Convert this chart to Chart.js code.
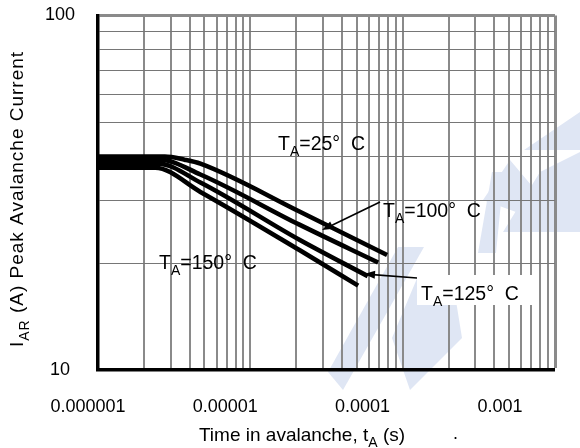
<!DOCTYPE html>
<html>
<head>
<meta charset="utf-8">
<script src="https://cdn.jsdelivr.net/npm/chart.js@4.4.1/dist/chart.umd.min.js"></script>
<style>
  html, body { margin: 0; padding: 0; background: #fff; }
  #wrap { width: 580px; height: 448px; }
</style>
</head>
<body>
<div id="wrap"><canvas id="c" width="580" height="448"></canvas></div>
<script>
// Peak avalanche current (A) versus time in avalanche (s), one curve per ambient temperature
const t25  = [1e-6, 2.75e-6, 3.7e-6, 4.7e-6, 2.1e-5, 7.9e-5];
const i25  = [40.0, 40.0, 39.2, 38.2, 28.0, 21.1];
const t100 = [1e-6, 2.55e-6, 4.7e-6, 2.1e-5, 6.9e-5];
const i100 = [39.2, 39.2, 35.6, 25.7, 20.1];
const t125 = [1e-6, 2.48e-6, 4.7e-6, 2.1e-5, 5.9e-5];
const i125 = [38.2, 38.2, 33.8, 23.3, 18.4];
const t150 = [1e-6, 2.37e-6, 4.7e-6, 2.1e-5, 5.1e-5];
const i150 = [37.2, 37.2, 31.8, 21.8, 17.3];
const temps = ['25', '100', '125', '150'];

// Axis ticks
const xTickExps   = [-6, -5, -4, -3];
const xTickLabels = ['0.000001', '0.00001', '0.0001', '0.001'];
const yTickValues = [10, 100];
const yTickLabels = ['10', '100'];

const FONT = "'Liberation Sans', Arial, Helvetica, sans-serif";
Chart.defaults.font.family = FONT;
Chart.defaults.color = '#000';

function toPoints(ts, is) { return ts.map((t, k) => ({ x: t, y: is[k] })); }

// 1..9 x 10^e grid positions for a log axis
function decadeTicks(lo, hi) {
  const out = [];
  for (let e = lo; e < hi; e++) {
    for (let m = 1; m < 10; m++) out.push({ value: +(m * Math.pow(10, e)).toPrecision(3) });
  }
  out.push({ value: Math.pow(10, hi) });
  return out;
}

// text with subscript runs: parts = [[text, isSub], ...]
function drawRich(ctx, parts, x, y, size, align, angle, spacing) {
  const sub = Math.round(size * 0.72);
  ctx.save();
  ctx.translate(x, y);
  if (angle) ctx.rotate(angle);
  ctx.textAlign = 'left';
  ctx.textBaseline = 'alphabetic';
  ctx.fillStyle = '#000';
  if (spacing) ctx.letterSpacing = spacing + 'px';
  const widths = parts.map(p => { ctx.font = (p[1] ? sub : size) + 'px ' + FONT; return ctx.measureText(p[0]).width; });
  const total = widths.reduce((a, b) => a + b, 0);
  let cx = align === 'center' ? -total / 2 : 0;
  parts.forEach((p, k) => {
    ctx.font = (p[1] ? sub : size) + 'px ' + FONT;
    ctx.fillText(p[0], cx, p[1] ? size * 0.3 : 0);
    cx += widths[k];
  });
  ctx.restore();
}

function arrow(ctx, x1, y1, x2, y2) {
  const a = Math.atan2(y2 - y1, x2 - x1);
  const len = 11, half = 4;
  ctx.save();
  ctx.strokeStyle = '#000';
  ctx.fillStyle = '#000';
  ctx.lineWidth = 1.6;
  ctx.beginPath();
  ctx.moveTo(x1, y1);
  ctx.lineTo(x2 - Math.cos(a) * len * 0.8, y2 - Math.sin(a) * len * 0.8);
  ctx.stroke();
  ctx.beginPath();
  ctx.moveTo(x2, y2);
  ctx.lineTo(x2 - Math.cos(a) * len - Math.sin(a) * half, y2 - Math.sin(a) * len + Math.cos(a) * half);
  ctx.lineTo(x2 - Math.cos(a) * len + Math.sin(a) * half, y2 - Math.sin(a) * len - Math.cos(a) * half);
  ctx.closePath();
  ctx.fill();
  ctx.restore();
}

function tempLabel(name) { return [['T', false], ['A', true], ['=' + name + '\u00b0  C', false]]; }

// Faint logo mark printed behind the chart
const logoShapes = [
  [[328, 372], [398, 247], [424, 247], [343, 390]],
  [[392, 338], [418, 276], [452, 276], [462, 338], [410, 390]],
  [[478, 253], [492, 172], [504, 172], [496, 253]],
  [[483, 200], [510, 160], [537, 192], [516, 212]],
  [[524, 150], [580, 112], [580, 150]],
  [[503, 232], [540, 172], [580, 152], [580, 232]]
];
const backdrop = {
  id: 'backdrop',
  beforeDraw(chart) {
    const ctx = chart.ctx;
    ctx.save();
    ctx.fillStyle = 'rgb(223,230,244)';
    logoShapes.forEach(poly => {
      ctx.beginPath();
      poly.forEach((p, k) => (k ? ctx.lineTo(p[0], p[1]) : ctx.moveTo(p[0], p[1])));
      ctx.closePath();
      ctx.fill();
    });
    ctx.restore();
  }
};

// Temperature labels that sit under the vertical grid
const underGridLabels = {
  id: 'underGridLabels',
  afterDatasetsDraw(chart) {
    const ctx = chart.ctx;
    drawRich(ctx, tempLabel(temps[0]), 278, 150, 19.5, 'left');
    drawRich(ctx, tempLabel(temps[1]), 383, 217, 19.5, 'left');
    drawRich(ctx, tempLabel(temps[3]), 159, 269, 19.5, 'left');
    arrow(ctx, 380, 202, 322, 230);
  }
};

// Boxed label, axis titles
const overlay = {
  id: 'overlay',
  afterDraw(chart) {
    const ctx = chart.ctx;
    ctx.save();
    ctx.fillStyle = '#fff';
    ctx.fillRect(417, 275, 116, 30);
    ctx.restore();
    drawRich(ctx, tempLabel(temps[2]), 421, 300, 19.5, 'left');
    arrow(ctx, 417, 278, 364, 274);

    drawRich(ctx, [['Time in avalanche, t', false], ['A', true], [' (s)', false]], 302, 441, 19, 'center');
    drawRich(ctx, [['I', false], ['AR', true], [' (A) Peak Avalanche Current', false]], 23, 199, 19, 'center', -Math.PI / 2, 1);

    ctx.save();
    ctx.font = '18px ' + FONT;
    ctx.fillStyle = '#000';
    ctx.fillText('.', 453, 439);
    ctx.restore();
  }
};

const lineStyle = { borderColor: '#000', borderWidth: 4.6, pointRadius: 0, fill: false, cubicInterpolationMode: 'monotone' };

function noPad(s) { s.paddingTop = 0; s.paddingBottom = 0; s.paddingLeft = 0; s.paddingRight = 0; }

new Chart(document.getElementById('c'), {
  type: 'line',
  data: {
    datasets: [
      Object.assign({ label: temps[0], data: toPoints(t25, i25) }, lineStyle),
      Object.assign({ label: temps[1], data: toPoints(t100, i100) }, lineStyle),
      Object.assign({ label: temps[2], data: toPoints(t125, i125) }, lineStyle),
      Object.assign({ label: temps[3], data: toPoints(t150, i150) }, lineStyle)
    ]
  },
  options: {
    responsive: false,
    animation: false,
    events: [],
    layout: { padding: { top: 15.5, right: 25, left: 0, bottom: 0 } },
    plugins: { legend: { display: false }, tooltip: { enabled: false } },
    scales: {
      x: {
        type: 'logarithmic',
        position: 'bottom',
        min: 1e-6,
        max: 1e-3,
        z: 1,
        afterBuildTicks: s => { s.ticks = decadeTicks(-6, -3); },
        afterFit: s => { s.height = 0; noPad(s); },
        ticks: { display: false },
        grid: {
          drawTicks: false,
          color: '#8a8a8a',
          lineWidth: c => (c.tick && c.tick.value === 1e-6) ? 0 : (c.tick && c.tick.value === 1e-3 ? 3 : 2)
        },
        border: { display: true, color: '#000', width: 3.4 }
      },
      xl: {
        type: 'linear',
        position: 'bottom',
        min: -6 + 10 / 137.3,
        max: -6 + 10 / 137.3 + 457 / 137.3,
        afterBuildTicks: s => { s.ticks = xTickExps.map(v => ({ value: v })); },
        afterFit: s => { s.height = 78; noPad(s); },
        grid: { display: false, drawTicks: false },
        border: { display: false },
        ticks: {
          autoSkip: false, maxRotation: 0, minRotation: 0, padding: 26,
          font: { size: 18 }, color: '#000',
          callback: (v, k) => xTickLabels[k]
        }
      },
      y: {
        type: 'logarithmic',
        min: 10,
        max: 100,
        afterBuildTicks: s => { s.ticks = decadeTicks(1, 2); },
        afterFit: s => { s.width = 98; noPad(s); },
        ticks: {
          autoSkip: false, padding: 23, crossAlign: 'center',
          font: { size: 18 }, color: '#000',
          callback: v => { const k = yTickValues.indexOf(Math.round(v)); return k >= 0 ? yTickLabels[k] : ''; }
        },
        grid: {
          drawTicks: false,
          color: c => (c.tick && c.tick.value === 100) ? '#8a8a8a' : '#767676',
          lineWidth: c => (c.tick && c.tick.value === 100) ? 3 : 1
        },
        border: { display: true, color: '#000', width: 3.5 }
      }
    }
  },
  plugins: [backdrop, underGridLabels, overlay]
});
</script>
</body>
</html>
